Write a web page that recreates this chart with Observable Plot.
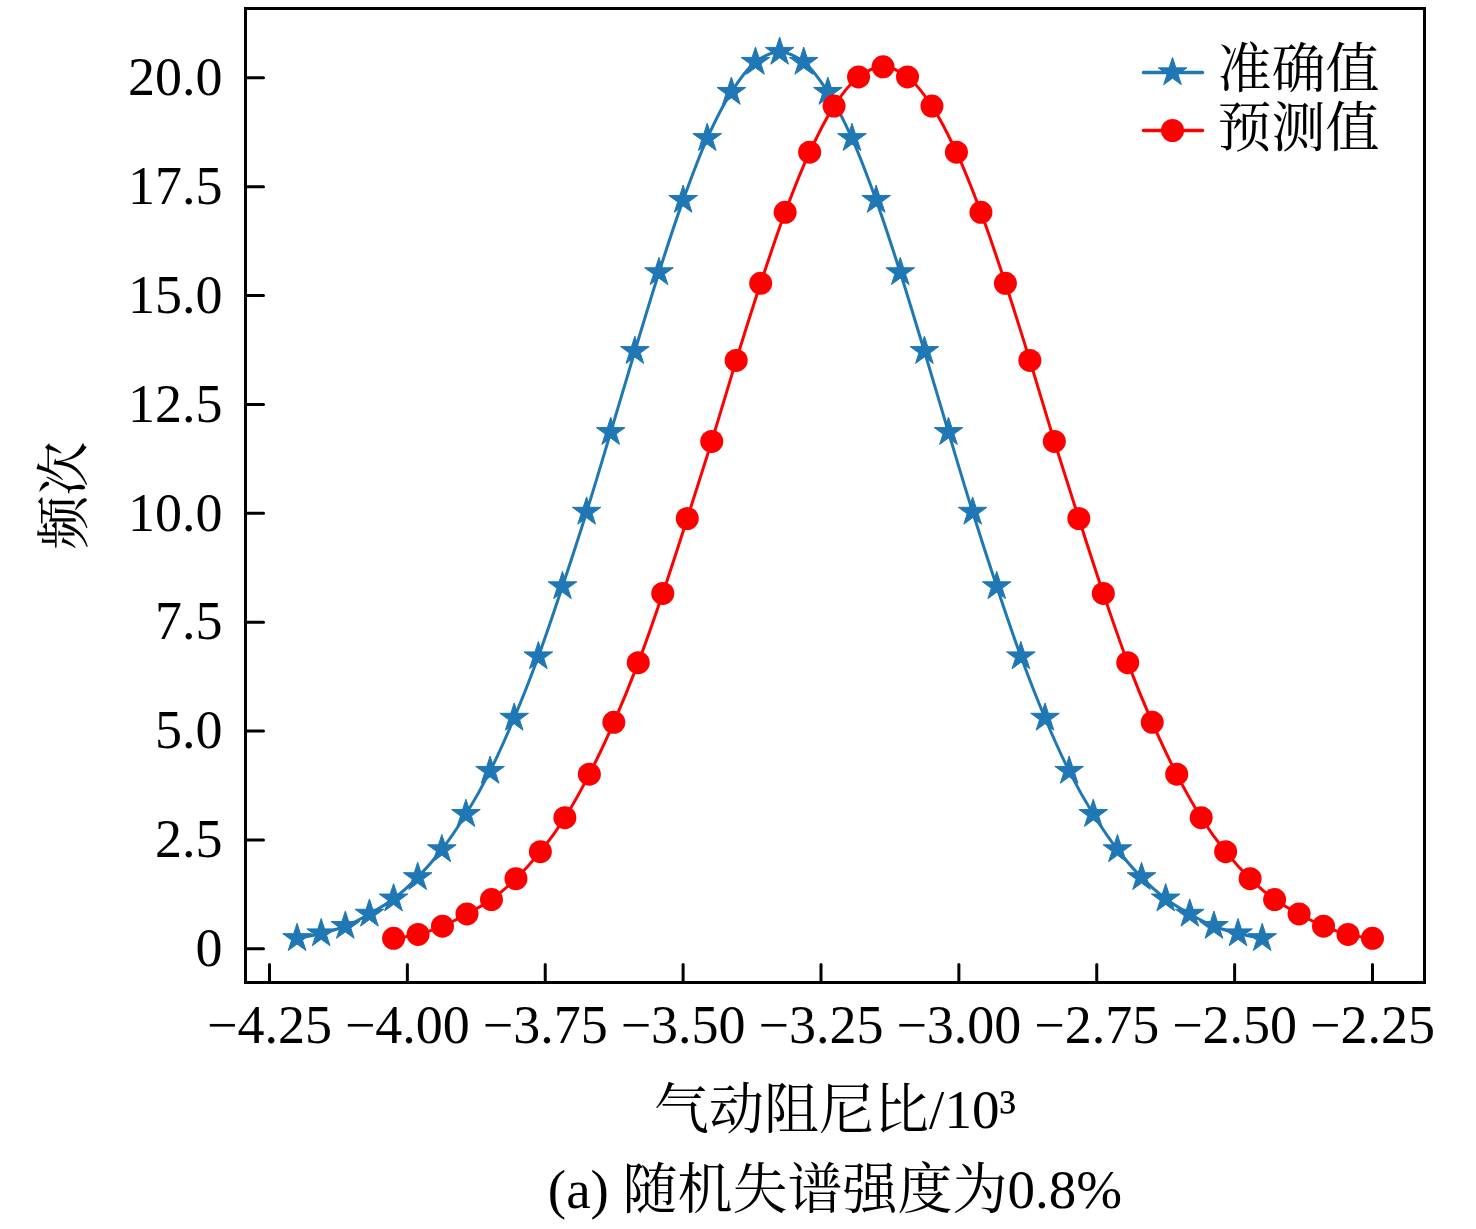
<!DOCTYPE html>
<html>
<head>
<meta charset="utf-8">
<script src="https://cdn.jsdelivr.net/npm/d3@7"></script>
<script src="https://cdn.jsdelivr.net/npm/@observablehq/plot@0.6"></script>
<style>
  html, body { margin: 0; padding: 0; background: #fff; }
  #chart svg { display: block; }
  #caption {
    width: 1476px; box-sizing: border-box; padding-left: 194px;
    text-align: center; font-family: "Liberation Serif", "Noto Serif CJK SC", "Noto Sans CJK SC", serif;
    font-size: 55px; line-height: 80px; color: #000;
  }
</style>
</head>
<body>
<div id="chart"></div>
<div id="caption">(a) 随机失谱强度为0.8%</div>
<script>
// 准确值 (exact values)
const exactX = [-4.2000, -4.1563, -4.1125, -4.0688, -4.0250, -3.9813, -3.9375, -3.8938, -3.8500, -3.8063,
  -3.7625, -3.7188, -3.6750, -3.6313, -3.5875, -3.5438, -3.5000, -3.4563, -3.4125, -3.3688,
  -3.3250, -3.2813, -3.2375, -3.1938, -3.1500, -3.1063, -3.0625, -3.0188, -2.9750, -2.9313,
  -2.8875, -2.8438, -2.8000, -2.7563, -2.7125, -2.6688, -2.6250, -2.5813, -2.5375, -2.4938, -2.4500];
const exactY = [0.24, 0.35, 0.52, 0.80, 1.15, 1.64, 2.28, 3.09, 4.08, 5.30,
  6.71, 8.32, 10.03, 11.86, 13.72, 15.53, 17.19, 18.61, 19.67, 20.36,
  20.59, 20.36, 19.67, 18.61, 17.19, 15.53, 13.72, 11.86, 10.03, 8.32,
  6.71, 5.30, 4.08, 3.09, 2.28, 1.64, 1.15, 0.80, 0.52, 0.35, 0.24];
// 预测值 (predicted values)
const predX = [-4.0250, -3.9806, -3.9363, -3.8919, -3.8475, -3.8031, -3.7588, -3.7144, -3.6700, -3.6256,
  -3.5813, -3.5369, -3.4925, -3.4481, -3.4038, -3.3594, -3.3150, -3.2706, -3.2263, -3.1819,
  -3.1375, -3.0931, -3.0488, -3.0044, -2.9600, -2.9156, -2.8713, -2.8269, -2.7825, -2.7381,
  -2.6938, -2.6494, -2.6050, -2.5606, -2.5163, -2.4719, -2.4275, -2.3831, -2.3388, -2.2944, -2.2500];
const predY = [0.24, 0.33, 0.52, 0.80, 1.13, 1.61, 2.23, 3.01, 4.01, 5.20,
  6.57, 8.16, 9.88, 11.65, 13.51, 15.28, 16.91, 18.29, 19.35, 20.02,
  20.25, 20.02, 19.35, 18.29, 16.91, 15.28, 13.51, 11.65, 9.88, 8.16,
  6.57, 5.20, 4.01, 3.01, 2.23, 1.61, 1.13, 0.80, 0.52, 0.33, 0.24];

const xTicks = [-4.25, -4.00, -3.75, -3.50, -3.25, -3.00, -2.75, -2.50, -2.25];
const yTicks = [0, 2.5, 5.0, 7.5, 10.0, 12.5, 15.0, 17.5, 20.0];
const seriesNames = ["准确值", "预测值"];
const seriesColors = ["#1f77b4", "#ff0000"];
const xLabel = "气动阻尼比/10³";
const yLabel = "频次";

const exact = exactX.map((x, i) => ({x, y: exactY[i]}));
const pred = predX.map((x, i) => ({x, y: predY[i]}));

const FONT = '"Liberation Serif", "Noto Serif CJK SC", "Noto Sans CJK SC", serif';
const lineShape = {draw(context, l) { context.moveTo(0, 0); context.lineTo(0, -l); }};
const STAR_R = 9, DOT_R = 11.5;

const chart = Plot.plot({
  width: 1476,
  height: 1150,
  marginLeft: 245,
  marginRight: 52,
  marginTop: 8,
  marginBottom: 168,
  style: {fontFamily: FONT, fontSize: "54px", color: "#000", background: "#fff"},
  x: {domain: [-4.2935, -2.1557]},
  y: {domain: [-0.774, 21.59]},
  marks: [
    // tick labels
    Plot.axisX(xTicks, {tickSize: 0, tickPadding: 22, tickFormat: d3.format(".2f"), fontSize: 54, label: null}),
    Plot.axisY(yTicks, {tickSize: 0, tickPadding: 23, tickFormat: d => d === 0 ? "0" : d.toFixed(1), fontSize: 54, label: null}),
    // inward ticks
    Plot.vector(xTicks, {x: d => d, frameAnchor: "bottom", length: 18, anchor: "start", rotate: 0, shape: lineShape, stroke: "#000", strokeWidth: 3}),
    Plot.vector(yTicks, {y: d => d, frameAnchor: "left", length: 18, anchor: "start", rotate: 90, shape: lineShape, stroke: "#000", strokeWidth: 3}),
    // axis titles
    Plot.text([xLabel], {text: d => d, frameAnchor: "bottom", dy: 128, lineAnchor: "middle", textAnchor: "middle", fontSize: 55}),
    Plot.text([yLabel], {text: d => d, frameAnchor: "left", dx: -180, rotate: -90, lineAnchor: "middle", textAnchor: "middle", fontSize: 54}),
    // series
    Plot.line(exact, {x: "x", y: "y", stroke: seriesColors[0], strokeWidth: 3, curve: "catmull-rom"}),
    Plot.dot(exact, {x: "x", y: "y", symbol: "star", r: STAR_R, fill: seriesColors[0], stroke: seriesColors[0], strokeWidth: 1}),
    Plot.line(pred, {x: "x", y: "y", stroke: seriesColors[1], strokeWidth: 3, curve: "catmull-rom"}),
    Plot.dot(pred, {x: "x", y: "y", symbol: "circle", r: DOT_R, fill: seriesColors[1], stroke: "none"}),
    // legend
    Plot.vector([0], {frameAnchor: "top-right", dx: -281, dy: 64, length: 59, anchor: "start", rotate: 90, shape: lineShape, stroke: seriesColors[0], strokeWidth: 3.5}),
    Plot.dot([0], {frameAnchor: "top-right", dx: -252, dy: 64, symbol: "star", r: STAR_R, fill: seriesColors[0], stroke: seriesColors[0], strokeWidth: 1}),
    Plot.text([seriesNames[0]], {text: d => d, frameAnchor: "top-right", dx: -207, dy: 62, textAnchor: "start", lineAnchor: "middle", fontSize: 54}),
    Plot.vector([0], {frameAnchor: "top-right", dx: -281, dy: 122, length: 59, anchor: "start", rotate: 90, shape: lineShape, stroke: seriesColors[1], strokeWidth: 3.5}),
    Plot.dot([0], {frameAnchor: "top-right", dx: -252, dy: 122, symbol: "circle", r: DOT_R, fill: seriesColors[1]}),
    Plot.text([seriesNames[1]], {text: d => d, frameAnchor: "top-right", dx: -207, dy: 121, textAnchor: "start", lineAnchor: "middle", fontSize: 54}),
    Plot.frame({stroke: "#000", strokeWidth: 3})
  ]
});
document.getElementById("chart").appendChild(chart);
</script>
</body>
</html>
